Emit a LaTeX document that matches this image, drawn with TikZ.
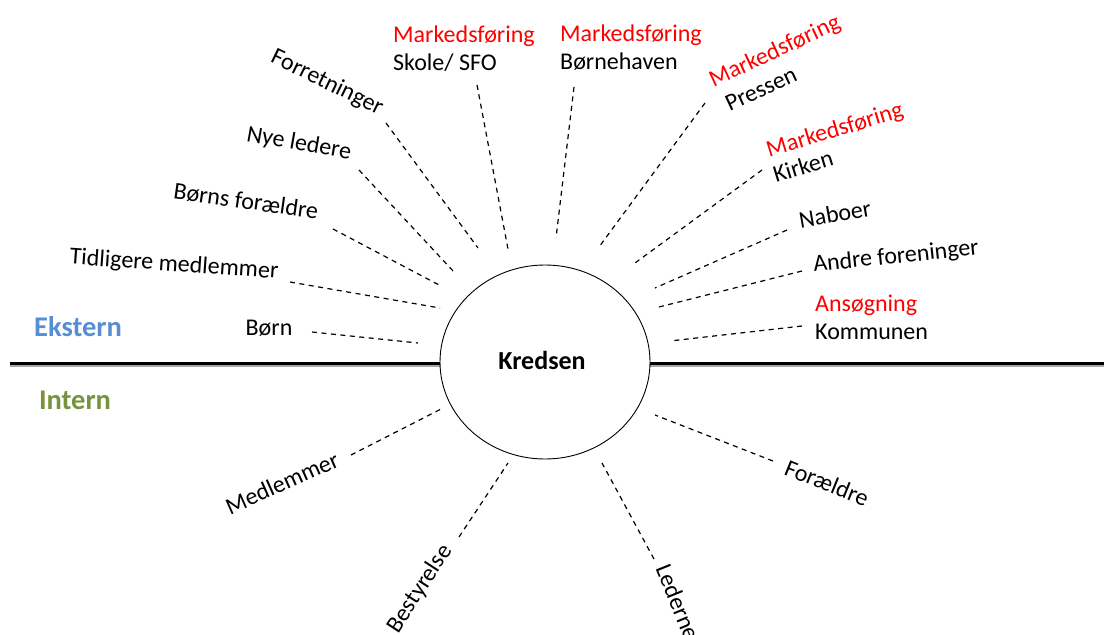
\documentclass[tikz,border=0pt]{standalone}
\usepackage{fontspec}
\setmainfont{Carlito}
\usepackage{xcolor}
\usetikzlibrary{positioning, shapes.geometric}

\definecolor{eksternblue}{HTML}{558ED5}
\definecolor{interngreen}{HTML}{77933C}

\begin{document}
\begin{tikzpicture}[x=1pt, y=-1pt,
    lbl/.style={font=\fontsize{24}{28}\selectfont, inner sep=0pt, text=black},
    redlbl/.style={lbl, text=red},
    sidelbl/.style={font=\fontsize{28.5}{32}\selectfont\bfseries, inner sep=0pt},
    dashline/.style={line width=1.2pt, dash pattern=on 5pt off 4.5pt},
    splitline/.style={line width=3pt, black}]
    \useasboundingbox (0,0) rectangle (1104,635);

    % Skillelinje mellem ekstern og intern
    \coordinate (lineL) at (10,363);
    \coordinate (lineR) at (1104,363);
    \draw[line width=3pt, black!35] ([yshift=-2pt]lineL) -- ([yshift=-2pt]lineR);
    \draw[splitline] (lineL) -- (lineR);

    % Kredsen i midten
    \node[draw, ellipse, fill=white, line width=0.9pt, minimum width=210pt, minimum height=194pt] (kreds) at (545,362) {};
    \node[font=\fontsize{26}{30}\selectfont\bfseries, inner sep=0pt] (kredsnavn) at (542,360) {Kredsen};

    % Ekstern / Intern
    \node[sidelbl, text=eksternblue] (ekstern) at (78,327) {Ekstern};
    \node[sidelbl, text=interngreen] (intern) at (75,400) {Intern};

    % Eksterne parter, venstre side
    \node[lbl] (born) at (269,328) {Børn};
    \coordinate (born-a) at (312,332);
    \coordinate (born-b) at (418,343);
    \draw[dashline] (born-a) -- (born-b);

    \node[lbl, rotate=-4] (tidl) at (174,265) {Tidligere medlemmer};
    \coordinate (tidl-a) at (290,282);
    \coordinate (tidl-b) at (440,308);
    \draw[dashline] (tidl-a) -- (tidl-b);

    \node[lbl, rotate=-8] (bornsfor) at (246,201) {Børns forældre};
    \coordinate (bornsfor-a) at (333,229);
    \coordinate (bornsfor-b) at (441,286);
    \draw[dashline] (bornsfor-a) -- (bornsfor-b);

    \node[lbl, rotate=-10] (nyeled) at (299,144) {Nye ledere};
    \coordinate (nyeled-a) at (359,170);
    \coordinate (nyeled-b) at (454,272);
    \draw[dashline] (nyeled-a) -- (nyeled-b);

    \node[lbl, rotate=-26] (forret) at (327,83) {Forretninger};
    \coordinate (forret-a) at (386,123);
    \coordinate (forret-b) at (478,248);
    \draw[dashline] (forret-a) -- (forret-b);

    % Markedsføring, øverst
    \node[redlbl, anchor=west] (skole-m) at (393,36) {Markedsføring};
    \node[lbl, anchor=west] (skole) at (393,63) {Skole/ SFO};
    \coordinate (skole-a) at (477,85);
    \coordinate (skole-b) at (508,249);
    \draw[dashline] (skole-a) -- (skole-b);

    \node[redlbl, anchor=west] (bh-m) at (560,35) {Markedsføring};
    \node[lbl, anchor=west] (bh) at (560,62) {Børnehaven};
    \coordinate (bh-a) at (574,87);
    \coordinate (bh-b) at (556,238);
    \draw[dashline] (bh-a) -- (bh-b);

    \node[redlbl, rotate=25] (pressen-m) at (775,52) {Markedsføring};
    \node[lbl, rotate=25] (pressen) at (761,89) {Pressen};
    \coordinate (pressen-a) at (705,103);
    \coordinate (pressen-b) at (599,247);
    \draw[dashline] (pressen-a) -- (pressen-b);

    \node[redlbl, rotate=17] (kirken-m) at (835,131) {Markedsføring};
    \node[lbl, rotate=17] (kirken) at (803,166) {Kirken};
    \coordinate (kirken-a) at (762,170);
    \coordinate (kirken-b) at (635,263);
    \draw[dashline] (kirken-a) -- (kirken-b);

    % Eksterne parter, højre side
    \node[lbl, rotate=10] (naboer) at (835,214) {Naboer};
    \coordinate (naboer-a) at (787,230);
    \coordinate (naboer-b) at (655,288);
    \draw[dashline] (naboer-a) -- (naboer-b);

    \node[lbl, rotate=6] (andre) at (896,257) {Andre foreninger};
    \coordinate (andre-a) at (802,271);
    \coordinate (andre-b) at (655,308);
    \draw[dashline] (andre-a) -- (andre-b);

    \node[redlbl, anchor=west] (kommune-m) at (815,305) {Ansøgning};
    \node[lbl, anchor=west] (kommune) at (815,332) {Kommunen};
    \coordinate (kommune-a) at (802,326);
    \coordinate (kommune-b) at (670,341);
    \draw[dashline] (kommune-a) -- (kommune-b);

    % Interne parter
    \node[lbl, rotate=-22] (foraeldre) at (827,483) {Forældre};
    \coordinate (foraeldre-a) at (773,461);
    \coordinate (foraeldre-b) at (655,415);
    \draw[dashline] (foraeldre-a) -- (foraeldre-b);

    \node[lbl, rotate=-68] (lederne) at (678,602) {Lederne};
    \coordinate (lederne-a) at (654,559);
    \coordinate (lederne-b) at (602,463);
    \draw[dashline] (lederne-a) -- (lederne-b);

    \node[lbl, rotate=57] (bestyr) at (420,589) {Bestyrelse};
    \coordinate (bestyr-a) at (459,537);
    \coordinate (bestyr-b) at (508,463);
    \draw[dashline] (bestyr-a) -- (bestyr-b);

    \node[lbl, rotate=24] (medlem) at (282,483) {Medlemmer};
    \coordinate (medlem-a) at (351,455);
    \coordinate (medlem-b) at (443,408);
    \draw[dashline] (medlem-a) -- (medlem-b);
\end{tikzpicture}
\end{document}
